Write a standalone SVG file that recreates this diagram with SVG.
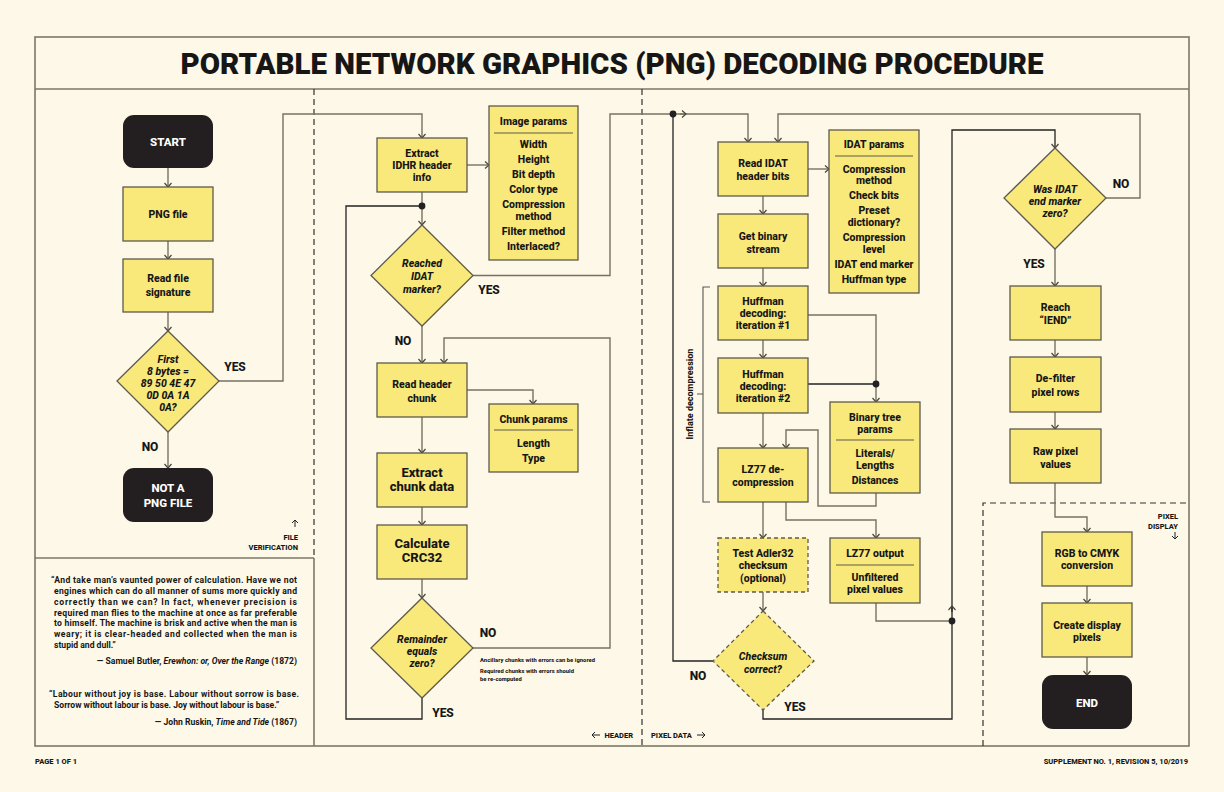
<svg xmlns="http://www.w3.org/2000/svg" width="1224" height="792" viewBox="0 0 1224 792">
<defs>
<marker id="ah" viewBox="-6 -6 12 12" refX="0" refY="0" markerWidth="12" markerHeight="12" markerUnits="userSpaceOnUse" orient="auto">
<path d="M-4,-3.5 L0,0 L-4,3.5" fill="none" stroke="#4a463c" stroke-width="1.2"/>
</marker>
<style>
.frame{fill:none;stroke:#7d7767;stroke-width:1.6}
.dash{fill:none;stroke:#333;stroke-width:1.2;stroke-dasharray:6,4}
.box{fill:#f9e97b;stroke:#5f5a4d;stroke-width:1.3}
.dbox{fill:#f9e97b;stroke:#5f5a4d;stroke-width:1.3;stroke-dasharray:4,3}
.term{fill:#231f20}
.c{fill:none;stroke:#777163;stroke-width:1.4}
.k{fill:none;stroke:#222;stroke-width:1.3}
.dot{fill:#222}
text{font-family:Roboto,"Liberation Sans",Arial,sans-serif;font-weight:800;fill:#161616}
.t{font-size:10.5px;text-anchor:middle}
.tl{font-size:13px;text-anchor:middle}
.ti{font-size:10.5px;text-anchor:middle;font-style:italic}
.tw{font-size:11.5px;text-anchor:middle;fill:#ffffff}
.lab{font-size:12px;text-anchor:middle}
.sm{font-size:7.5px}
.q{font-size:8.6px;font-weight:700}
.div{stroke:#5f5a4d;stroke-width:1.2}
</style>
</defs>
<rect x="0" y="0" width="1224" height="792" fill="#fdf8e7"/>

<!-- frame -->
<g id="frame">
<rect class="frame" x="35" y="37" width="1154" height="709"/>
<line class="frame" x1="35" y1="89" x2="1189" y2="89"/>
<line class="dash" x1="314" y1="89" x2="314" y2="558"/>
<line class="frame" x1="35" y1="558" x2="314" y2="558"/>
<line class="frame" x1="314" y1="558" x2="314" y2="746"/>
<line class="dash" x1="642" y1="89" x2="642" y2="746"/>
<path class="dash" d="M983,746 V503 H1189"/>
</g>

<text x="612" y="74" text-anchor="middle" font-size="30" style="font-weight:900" textLength="863" lengthAdjust="spacingAndGlyphs">PORTABLE NETWORK GRAPHICS (PNG) DECODING PROCEDURE</text>

<!-- section labels -->
<g id="section-labels">
<path d="M295,527 V520 M292,523 L295,520 L298,523" fill="none" stroke="#222" stroke-width="1"/>
<text class="sm" x="298" y="540" text-anchor="end">FILE</text>
<text class="sm" x="298" y="550" text-anchor="end">VERIFICATION</text>
<path d="M600,735 H592 M595,732 L592,735 L595,738" fill="none" stroke="#222" stroke-width="1"/>
<text class="sm" x="633" y="738" text-anchor="end">HEADER</text>
<text class="sm" x="651" y="738">PIXEL DATA</text>
<path d="M697,735 H705 M702,732 L705,735 L702,738" fill="none" stroke="#222" stroke-width="1"/>
<text class="sm" x="1178" y="519" text-anchor="end">PIXEL</text>
<text class="sm" x="1178" y="529" text-anchor="end">DISPLAY</text>
<path d="M1175,532 V539 M1172,536 L1175,539 L1178,536" fill="none" stroke="#222" stroke-width="1"/>
<text class="sm" x="35" y="764">PAGE 1 OF 1</text>
<text class="sm" x="1188" y="764" text-anchor="end">SUPPLEMENT NO. 1, REVISION 5, 10/2019</text>
</g>

<!-- quotes -->
<g id="quotes">
<text class="q" x="51" y="583" textLength="246" lengthAdjust="spacing">“And take man’s vaunted power of calculation. Have we not</text>
<text class="q" x="54" y="594" textLength="243" lengthAdjust="spacing">engines which can do all manner of sums more quickly and</text>
<text class="q" x="54" y="605" textLength="243" lengthAdjust="spacing">correctly than we can? In fact, whenever precision is</text>
<text class="q" x="54" y="616" textLength="243" lengthAdjust="spacing">required man flies to the machine at once as far preferable</text>
<text class="q" x="54" y="626" textLength="243" lengthAdjust="spacing">to himself. The machine is brisk and active when the man is</text>
<text class="q" x="54" y="637" textLength="243" lengthAdjust="spacing">weary; it is clear-headed and collected when the man is</text>
<text class="q" x="54" y="648">stupid and dull.”</text>
<text class="q" x="297" y="664" text-anchor="end">— Samuel Butler, <tspan font-style="italic">Erewhon: or, Over the Range</tspan> (1872)</text>
<text class="q" x="49" y="697" textLength="250" lengthAdjust="spacing">“Labour without joy is base. Labour without sorrow is base.</text>
<text class="q" x="54" y="708">Sorrow without labour is base. Joy without labour is base.”</text>
<text class="q" x="297" y="725" text-anchor="end">— John Ruskin, <tspan font-style="italic">Time and Tide</tspan> (1867)</text>
</g>

<!-- connectors -->
<g id="connectors">
<path class="c" d="M168,168 V187" marker-end="url(#ah)"/>
<path class="c" d="M168,241 V259" marker-end="url(#ah)"/>
<path class="c" d="M168,312 V331" marker-end="url(#ah)"/>
<path class="c" d="M168,432 V468" marker-end="url(#ah)"/>
<path class="c" d="M219,381 H283 V114 H422 V138" marker-end="url(#ah)"/>
<path class="c" d="M467,165 H489" marker-end="url(#ah)"/>
<path class="c" d="M422,192 V225" marker-end="url(#ah)"/>
<path class="k" d="M422,698 V719 H346 V206 H422"/>
<path class="c" d="M473,275.5 H610 V114 H748 V142" marker-end="url(#ah)"/>
<path class="c" d="M422,326 V363" marker-end="url(#ah)"/>
<path class="c" d="M467,390 H533 V404" marker-end="url(#ah)"/>
<path class="c" d="M422,417 V453" marker-end="url(#ah)"/>
<path class="c" d="M422,507 V525" marker-end="url(#ah)"/>
<path class="c" d="M422,579 V598" marker-end="url(#ah)"/>
<path class="c" d="M473,648 H610 V338 H444 V363" marker-end="url(#ah)"/>
<path class="c" d="M808,169 H829" marker-end="url(#ah)"/>
<path class="c" d="M763,196 V214" marker-end="url(#ah)"/>
<path class="c" d="M763,268 V286" marker-end="url(#ah)"/>
<path class="c" d="M763,340 V358" marker-end="url(#ah)"/>
<path class="c" d="M763,413 V448" marker-end="url(#ah)"/>
<path class="c" d="M808,315 H876 V402" marker-end="url(#ah)"/>
<path class="k" d="M808,384 H876"/>
<path class="c" d="M876,493 V506 H818 V430 H786 V448" marker-end="url(#ah)"/>
<path class="c" d="M763,502 V538" marker-end="url(#ah)"/>
<path class="c" d="M786,502 V520 H876 V538" marker-end="url(#ah)"/>
<path class="c" d="M876,603 V621 H952"/>
<path class="c" d="M763,592 V611" marker-end="url(#ah)"/>
<path class="k" d="M763,710 V719 H952 V130 H1055 V148" marker-end="url(#ah)"/>
<path class="k" d="M952,612 V606" marker-end="url(#ah)"/>
<path class="k" d="M713,661 H673 V114"/>
<path class="c" d="M680,114 H686" marker-end="url(#ah)"/>
<path class="c" d="M1106,198 H1140 V114 H778 V142" marker-end="url(#ah)"/>
<path class="c" d="M1055,249 V286" marker-end="url(#ah)"/>
<path class="c" d="M1055,340 V357" marker-end="url(#ah)"/>
<path class="c" d="M1055,412 V429" marker-end="url(#ah)"/>
<path class="c" d="M1055,483 V517 H1087 V532" marker-end="url(#ah)"/>
<path class="c" d="M1087,586 V603" marker-end="url(#ah)"/>
<path class="c" d="M1087,657 V675" marker-end="url(#ah)"/>
<circle class="dot" cx="422" cy="206" r="3.4"/>
<circle class="dot" cx="673" cy="114" r="3.4"/>
<circle class="dot" cx="876" cy="384" r="3.4"/>
<circle class="dot" cx="952" cy="621" r="3.4"/>
<path d="M710,287 H703 V502 H710 M703,394 H697" fill="none" stroke="#555" stroke-width="1.1"/>
<text x="690" y="394" font-size="9" text-anchor="middle" transform="rotate(-90 690 394)" dy="3">Inflate decompression</text>
</g>

<!-- labels -->
<g id="edge-labels">
<text class="lab" x="235" y="371">YES</text>
<text class="lab" x="150" y="451">NO</text>
<text class="lab" x="489" y="294">YES</text>
<text class="lab" x="403" y="345">NO</text>
<text class="lab" x="488" y="637">NO</text>
<text class="lab" x="443" y="717">YES</text>
<text class="lab" x="698" y="680">NO</text>
<text class="lab" x="795" y="711">YES</text>
<text class="lab" x="1121" y="188">NO</text>
<text class="lab" x="1034" y="268">YES</text>
<text x="480" y="662" font-size="5.8" textLength="115" lengthAdjust="spacing">Ancillary chunks with errors can be ignored</text>
<text x="480" y="673" font-size="5.8" textLength="94" lengthAdjust="spacing">Required chunks with errors should</text>
<text x="480" y="681" font-size="5.8">be re-computed</text>
</g>

<!-- column 1 -->
<g id="start"><rect class="term" x="123" y="115" width="90" height="53" rx="11"/><text class="tw" x="168" y="146">START</text></g>
<g id="png-file"><rect class="box" x="123" y="187" width="90" height="54"/><text class="t" x="168" y="218" font-size="11">PNG file</text></g>
<g id="read-signature"><rect class="box" x="123" y="259" width="90" height="53"/><text class="t" x="168" y="282">Read file</text><text class="t" x="168" y="296">signature</text></g>
<g id="first-8-bytes"><polygon class="box" points="168,331 219,381 168,432 117,381"/>
<text class="ti" x="168" y="363" font-size="10">First</text><text class="ti" x="168" y="375" font-size="10">8 bytes =</text><text class="ti" x="168" y="387" font-size="10">89 50 4E 47</text><text class="ti" x="168" y="399" font-size="10">0D 0A 1A</text><text class="ti" x="168" y="411" font-size="10">0A?</text></g>
<g id="not-png"><rect class="term" x="123" y="468" width="90" height="54" rx="11"/><text class="tw" x="168" y="492" font-size="12">NOT A</text><text class="tw" x="168" y="507" font-size="12">PNG FILE</text></g>

<!-- column 2 -->
<g id="extract-idhr"><rect class="box" x="377" y="138" width="90" height="54"/><text class="t" x="422" y="157">Extract</text><text class="t" x="422" y="169">IDHR header</text><text class="t" x="422" y="181">info</text></g>
<g id="image-params"><rect class="box" x="489" y="106" width="89" height="154"/>
<text class="t" x="533.5" y="124.5">Image params</text><line class="div" x1="494" y1="133" x2="573" y2="133"/>
<text class="t" x="533.5" y="148">Width</text><text class="t" x="533.5" y="163">Height</text><text class="t" x="533.5" y="178">Bit depth</text><text class="t" x="533.5" y="193">Color type</text><text class="t" x="533.5" y="208">Compression</text><text class="t" x="533.5" y="220">method</text><text class="t" x="533.5" y="235">Filter method</text><text class="t" x="533.5" y="250">Interlaced?</text></g>
<g id="reached-idat"><polygon class="box" points="422,225 473,275.5 422,326 371,275.5"/><text class="ti" x="422" y="267">Reached</text><text class="ti" x="422" y="280">IDAT</text><text class="ti" x="422" y="293">marker?</text></g>
<g id="read-header-chunk"><rect class="box" x="377" y="363" width="90" height="54"/><text class="t" x="422" y="388">Read header</text><text class="t" x="422" y="402">chunk</text></g>
<g id="chunk-params"><rect class="box" x="489" y="404" width="89" height="68"/><text class="t" x="533.5" y="423">Chunk params</text><line class="div" x1="494" y1="430" x2="573" y2="430"/><text class="t" x="533.5" y="447">Length</text><text class="t" x="533.5" y="462">Type</text></g>
<g id="extract-chunk-data"><rect class="box" x="377" y="453" width="90" height="54"/><text class="tl" x="422" y="477">Extract</text><text class="tl" x="422" y="491">chunk data</text></g>
<g id="calculate-crc32"><rect class="box" x="377" y="525" width="90" height="54"/><text class="tl" x="422" y="548">Calculate</text><text class="tl" x="422" y="562">CRC32</text></g>
<g id="remainder-zero"><polygon class="box" points="422,598 473,648 422,698 371,648"/><text class="ti" x="422" y="643">Remainder</text><text class="ti" x="422" y="655">equals</text><text class="ti" x="422" y="667">zero?</text></g>

<!-- column 3 -->
<g id="read-idat"><rect class="box" x="718" y="142" width="90" height="54"/><text class="t" x="763" y="167">Read IDAT</text><text class="t" x="763" y="180">header bits</text></g>
<g id="idat-params"><rect class="box" x="829" y="130" width="90" height="163"/>
<text class="t" x="874" y="148">IDAT params</text><line class="div" x1="835" y1="156" x2="913" y2="156"/>
<text class="t" x="874" y="173">Compression</text><text class="t" x="874" y="184">method</text><text class="t" x="874" y="199">Check bits</text><text class="t" x="874" y="214">Preset</text><text class="t" x="874" y="226">dictionary?</text><text class="t" x="874" y="241">Compression</text><text class="t" x="874" y="253">level</text><text class="t" x="874" y="268">IDAT end marker</text><text class="t" x="874" y="283">Huffman type</text></g>
<g id="get-binary-stream"><rect class="box" x="718" y="214" width="90" height="54"/><text class="t" x="763" y="240">Get binary</text><text class="t" x="763" y="253">stream</text></g>
<g id="huffman-1"><rect class="box" x="718" y="286" width="90" height="54"/><text class="t" x="763" y="305">Huffman</text><text class="t" x="763" y="317">decoding:</text><text class="t" x="763" y="329">iteration #1</text></g>
<g id="huffman-2"><rect class="box" x="718" y="358" width="90" height="55"/><text class="t" x="763" y="378">Huffman</text><text class="t" x="763" y="390">decoding:</text><text class="t" x="763" y="402">iteration #2</text></g>
<g id="binary-tree-params"><rect class="box" x="830" y="402" width="90" height="91"/><text class="t" x="875" y="421">Binary tree</text><text class="t" x="875" y="433">params</text><line class="div" x1="836" y1="440" x2="914" y2="440"/><text class="t" x="875" y="457">Literals/</text><text class="t" x="875" y="469">Lengths</text><text class="t" x="875" y="484">Distances</text></g>
<g id="lz77"><rect class="box" x="718" y="448" width="90" height="54"/><text class="t" x="763" y="473">LZ77 de-</text><text class="t" x="763" y="486">compression</text></g>
<g id="test-adler32"><rect class="dbox" x="718" y="538" width="90" height="54"/><text class="t" x="763" y="557">Test Adler32</text><text class="t" x="763" y="569">checksum</text><text class="t" x="763" y="582">(optional)</text></g>
<g id="lz77-output"><rect class="box" x="830" y="538" width="90" height="65"/><text class="t" x="875" y="557">LZ77 output</text><line class="div" x1="836" y1="565" x2="914" y2="565"/><text class="t" x="875" y="581">Unfiltered</text><text class="t" x="875" y="593">pixel values</text></g>
<g id="checksum-correct"><polygon class="dbox" points="763,611 814,661 763,710 713,661"/><text class="ti" x="763" y="660">Checksum</text><text class="ti" x="763" y="673">correct?</text></g>

<!-- column 4 -->
<g id="was-idat-end"><polygon class="box" points="1055,148 1106,198 1055,249 1004,198"/><text class="ti" x="1055" y="193" font-size="9.5">Was IDAT</text><text class="ti" x="1055" y="205" font-size="9.5">end marker</text><text class="ti" x="1055" y="217" font-size="9.5">zero?</text></g>
<g id="reach-iend"><rect class="box" x="1010" y="286" width="91" height="54"/><text class="t" x="1055.5" y="311">Reach</text><text class="t" x="1055.5" y="324">“IEND”</text></g>
<g id="de-filter"><rect class="box" x="1010" y="357" width="91" height="55"/><text class="t" x="1055.5" y="382">De-filter</text><text class="t" x="1055.5" y="396">pixel rows</text></g>
<g id="raw-pixel"><rect class="box" x="1010" y="429" width="91" height="54"/><text class="t" x="1055.5" y="455">Raw pixel</text><text class="t" x="1055.5" y="468">values</text></g>
<g id="rgb-cmyk"><rect class="box" x="1042" y="532" width="90" height="54"/><text class="t" x="1087" y="557">RGB to CMYK</text><text class="t" x="1087" y="569">conversion</text></g>
<g id="create-display"><rect class="box" x="1042" y="603" width="90" height="54"/><text class="t" x="1087" y="629">Create display</text><text class="t" x="1087" y="641">pixels</text></g>
<g id="end"><rect class="term" x="1042" y="675" width="90" height="54" rx="11"/><text class="tw" x="1087" y="707" font-size="12">END</text></g>
</svg>
